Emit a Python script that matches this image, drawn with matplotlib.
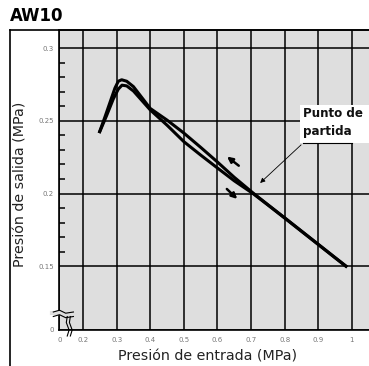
import matplotlib
matplotlib.use("Agg")
import matplotlib.pyplot as plt
from matplotlib.patches import Rectangle

# data (MPa)
inlet_a = [0.248, 0.265, 0.28, 0.295, 0.305, 0.315, 0.33, 0.35, 0.40, 0.45, 0.50,
           0.55, 0.60, 0.65, 0.706, 0.75, 0.80, 0.85, 0.90, 0.95, 0.986]
outlet_a = [0.2416, 0.2525, 0.2625, 0.2725, 0.2772, 0.2782, 0.2772, 0.2735, 0.2585, 0.2505, 0.2416,
            0.2318, 0.2217, 0.2112, 0.2004, 0.1924, 0.1834, 0.1743, 0.1652, 0.1561, 0.1496]

inlet_b = [0.248, 0.27, 0.29, 0.305, 0.316, 0.33, 0.35, 0.40, 0.45, 0.50,
           0.55, 0.60, 0.65, 0.706, 0.75, 0.80, 0.85, 0.90, 0.95, 0.986]
outlet_b = [0.2416, 0.2535, 0.2650, 0.2718, 0.2745, 0.2740, 0.2705, 0.2575, 0.2470, 0.2357,
            0.2265, 0.2176, 0.2088, 0.2000, 0.1922, 0.1832, 0.1741, 0.1650, 0.1559, 0.1494]

x_ticks = [0.2, 0.3, 0.4, 0.5, 0.6, 0.7, 0.8, 0.9, 1.0]
x_labels = ["0.2", "0.3", "0.4", "0.5", "0.6", "0.7", "0.8", "0.9", "1"]
y_ticks = [0.15, 0.2, 0.25, 0.3]
y_labels = ["0.15", "0.2", "0.25", "0.3"]
y_minor = [0.16, 0.17, 0.18, 0.19, 0.21, 0.22, 0.23, 0.24, 0.26, 0.27, 0.28, 0.29]

x_min, x_max = 0.130, 1.051
y_min, y_max = 0.1063, 0.3124

fig = plt.figure(figsize=(3.69, 3.66), dpi=100)
ax = fig.add_axes([59.5 / 369, 36 / 366, (369 - 59.5) / 369, 300 / 366])
ax.set_facecolor("#dedede")
ax.set_xlim(x_min, x_max)
ax.set_ylim(y_min, y_max)

# grid
ax.set_axisbelow(True)
ax.set_xticks([x_min] + x_ticks)
ax.set_xticklabels(["0"] + x_labels)
ax.set_yticks([y_min] + y_ticks)
ax.set_yticklabels(["0"] + y_labels)
ax.set_yticks(y_minor, minor=True)
ax.grid(True, which="major", color="black", linewidth=1.1)
ax.tick_params(axis="both", which="major", length=0, labelsize=5, labelcolor="#777777")
ax.tick_params(axis="x", pad=5)
ax.tick_params(axis="y", pad=4)
ax.tick_params(axis="y", which="minor", direction="in", length=4, width=1.1, color="black")
for s in ["left", "bottom", "top"]:
    ax.spines[s].set_linewidth(1.2)
ax.spines["right"].set_visible(False)

# white box behind the callout text
ax.add_patch(Rectangle((0.846, 0.2348), 0.25, 0.026, facecolor="white",
                       edgecolor="none", zorder=1))

# curves
ax.plot(inlet_a, outlet_a, color="black", linewidth=2.2, solid_capstyle="butt", zorder=3)
ax.plot(inlet_b, outlet_b, color="black", linewidth=2.2, solid_capstyle="butt", zorder=3)

# direction arrows
ax.annotate("", xy=(0.622, 0.2266), xytext=(0.670, 0.2180),
            arrowprops=dict(arrowstyle="-|>", color="black", lw=1.8, mutation_scale=8), zorder=4)
ax.annotate("", xy=(0.665, 0.1950), xytext=(0.622, 0.2045),
            arrowprops=dict(arrowstyle="-|>", color="black", lw=1.8, mutation_scale=8), zorder=4)

# callout
ax.text(0.855, 0.2547, "Punto de", ha="left", va="center",
        fontsize=8.6, fontweight="bold", color="#111111", zorder=5)
ax.text(0.855, 0.2430, "partida", ha="left", va="center",
        fontsize=8.6, fontweight="bold", color="#111111", zorder=5)
ax.plot([0.855, 1.0], [0.2348, 0.2348], color="black", linewidth=0.8, zorder=5)
ax.annotate("", xy=(0.721, 0.206), xytext=(0.855, 0.2348),
            arrowprops=dict(arrowstyle="-|>", color="black", lw=0.6, mutation_scale=7), zorder=5)

# axis break marks
bx = [-0.02, 0.0, 0.02, 0.045]
ax.plot([-0.025, 0.05], [0.056, 0.056], transform=ax.transAxes, color="#dedede",
        linewidth=3, clip_on=False, zorder=6)
for dy in (0.045, 0.06):
    ax.plot(bx, [dy, dy + 0.006, dy - 0.004, dy], transform=ax.transAxes,
            color="black", linewidth=0.8, clip_on=False, zorder=7)
for dx in (0.025, 0.035):
    ax.plot([dx, dx + 0.006, dx - 0.003, dx], [-0.02, 0.0, 0.025, 0.045], transform=ax.transAxes,
            color="black", linewidth=0.8, clip_on=False, zorder=7)

# labels
fig.text(208 / 369, 1 - 356 / 366, "Presión de entrada (MPa)", ha="center", va="center",
         fontsize=10.3, color="#222222")
fig.text(21 / 369, 1 - 184 / 366, "Presión de salida (MPa)", ha="center", va="center",
         rotation=90, fontsize=10.3, color="#222222")
fig.text(10 / 369, 1 - 16 / 366, "AW10", ha="left", va="center", fontsize=12, fontweight="bold")

# outer frame
fig.add_artist(plt.Line2D([9.5 / 369, 1.0], [1 - 29.5 / 366, 1 - 29.5 / 366], color="black",
                          linewidth=1.2, transform=fig.transFigure))
fig.add_artist(plt.Line2D([9.5 / 369, 9.5 / 369], [0.0, 1 - 29.5 / 366], color="black",
                          linewidth=1.2, transform=fig.transFigure))

fig.savefig("out.png", dpi=100)
